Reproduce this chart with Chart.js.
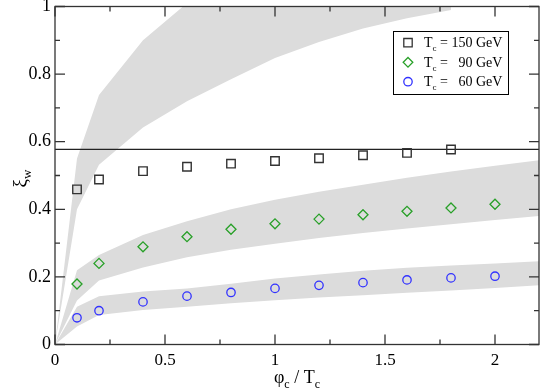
<!DOCTYPE html>
<html>
<head>
<meta charset="utf-8">
<script src="https://cdn.jsdelivr.net/npm/chart.js@4"></script>
<style>
  body { margin: 0; background: #fff; }
</style>
</head>
<body>
<canvas id="myChart" width="540" height="389"></canvas>
<script>
// ******* DATA ******************
// simulated points, phi_c / T_c on x
let xPoints = [0.1, 0.2, 0.4, 0.6, 0.8, 1.0, 1.2, 1.4, 1.6, 1.8, 2.0];
let xi150 = [0.459, 0.488, 0.513, 0.526, 0.535, 0.543, 0.551, 0.560, 0.567, 0.577];
let xi90  = [0.179, 0.240, 0.289, 0.319, 0.341, 0.357, 0.371, 0.384, 0.394, 0.404, 0.415];
let xi60  = [0.079, 0.100, 0.126, 0.143, 0.154, 0.166, 0.175, 0.183, 0.191, 0.197, 0.202];

// grey bands (lower / upper edge)
let bandX = [0, 0.1, 0.2, 0.4, 0.6, 0.8, 1.0, 1.2, 1.4, 1.6, 1.8, 2.0, 2.2];
let band150Lo = [0, 0.40, 0.532, 0.642, 0.72, 0.785, 0.848, 0.895, 0.935, 0.965, 0.99];
let band150Hi = [0, 0.55, 0.738, 0.90, 1.01, 1.08, 1.14, 1.19, 1.24, 1.28, 1.32];
let band90Lo  = [0, 0.13, 0.189, 0.228, 0.258, 0.28, 0.298, 0.315, 0.33, 0.343, 0.356, 0.368, 0.38];
let band90Hi  = [0, 0.22, 0.265, 0.324, 0.365, 0.40, 0.428, 0.452, 0.473, 0.493, 0.512, 0.529, 0.545];
let band60Lo  = [0, 0.053, 0.087, 0.102, 0.112, 0.122, 0.131, 0.139, 0.146, 0.153, 0.16, 0.167, 0.175];
let band60Hi  = [0, 0.112, 0.143, 0.157, 0.166, 0.18, 0.195, 0.207, 0.218, 0.227, 0.234, 0.24, 0.246];

// horizontal reference line
let refLineX = [0, 2.2];
let refLineY = [0.577, 0.577];

// ticks
let xTicks = [0, 0.5, 1, 1.5, 2];
let xMinor = [0.25, 0.75, 1.25, 1.75];
let yTicks = [0, 0.2, 0.4, 0.6, 0.8, 1];
let yMinor = [0.1, 0.3, 0.5, 0.7, 0.9];

let legendNames = ['150', '90', '60'];

const SERIF = '"Liberation Serif", "DejaVu Serif", serif';
const GREY = 'rgb(220,220,220)';

function pairUp(xs, ys) {
  let out = [];
  for (let i = 0; i < ys.length; i++) {
    out.push({ x: xs[i], y: ys[i] });
  }
  return out;
}

function bandSets(lo, hi) {
  return [
    { data: pairUp(bandX, lo), borderWidth: 0, pointRadius: 0, fill: false, order: 5, backgroundColor: GREY },
    { data: pairUp(bandX, hi), borderWidth: 0, pointRadius: 0, fill: '-1', order: 5, backgroundColor: GREY }
  ];
}

// ******* extra drawing: frame, inward ticks, titles, legend ******************
function drawSub(ctx, big, small, x, y, bigSize, smallSize) {
  ctx.font = bigSize + 'px ' + SERIF;
  ctx.fillText(big, x, y);
  let w = ctx.measureText(big).width;
  ctx.font = smallSize + 'px ' + SERIF;
  ctx.fillText(small, x + w, y + bigSize * 0.28);
  return w + ctx.measureText(small).width;
}

function drawMarker(ctx, style, x, y) {
  ctx.beginPath();
  if (style === 'rect') {
    ctx.rect(x - 4.2, y - 4.2, 8.4, 8.4);
  } else if (style === 'rectRot') {
    ctx.moveTo(x, y - 4.8); ctx.lineTo(x + 4.8, y); ctx.lineTo(x, y + 4.8); ctx.lineTo(x - 4.8, y); ctx.closePath();
  } else {
    ctx.arc(x, y, 4.2, 0, Math.PI * 2);
  }
  ctx.stroke();
}

// no extra room for half labels, the area is set by hand
function noPad(s) {
  s.paddingTop = 0; s.paddingBottom = 0; s.paddingLeft = 0; s.paddingRight = 0;
}

const extrasPlugin = {
  id: 'extras',
  afterDatasetsDraw(chart) {
    let ctx = chart.ctx;
    let a = chart.chartArea;
    let xs = chart.scales.x;
    let ys = chart.scales.y;
    ctx.save();
    ctx.strokeStyle = '#333';
    ctx.lineWidth = 1.3;
    ctx.strokeRect(a.left, a.top, a.right - a.left, a.bottom - a.top);

    ctx.beginPath();
    yTicks.concat(yMinor).forEach(function (v) {
      let len = yTicks.includes(v) ? 10 : 5;
      let py = ys.getPixelForValue(v);
      ctx.moveTo(a.left, py); ctx.lineTo(a.left + len, py);
      ctx.moveTo(a.right, py); ctx.lineTo(a.right - len, py);
    });
    xTicks.concat(xMinor).forEach(function (v) {
      let len = xTicks.includes(v) ? 10 : 5;
      let px = xs.getPixelForValue(v);
      ctx.moveTo(px, a.bottom); ctx.lineTo(px, a.bottom - len);
      ctx.moveTo(px, a.top); ctx.lineTo(px, a.top + len);
    });
    ctx.stroke();
    ctx.restore();
  },
  afterDraw(chart) {
    let ctx = chart.ctx;
    let a = chart.chartArea;
    ctx.save();
    ctx.fillStyle = '#000';
    ctx.textBaseline = 'alphabetic';

    // x title  phi_c / T_c
    let cx = (a.left + a.right) / 2;
    let wTot = 0;
    ctx.font = '18px ' + SERIF; wTot += ctx.measureText('φ / T').width;
    ctx.font = '12px ' + SERIF; wTot += 2 * ctx.measureText('c').width;
    let x0 = cx - wTot / 2;
    x0 += drawSub(ctx, 'φ', 'c', x0, 383, 18, 12);
    ctx.font = '18px ' + SERIF;
    ctx.fillText(' / ', x0, 383);
    x0 += ctx.measureText(' / ').width;
    drawSub(ctx, 'T', 'c', x0, 383, 18, 12);

    // y title  xi_w (rotated)
    ctx.save();
    ctx.translate(26, (a.top + a.bottom) / 2 + 4);
    ctx.rotate(-Math.PI / 2);
    drawSub(ctx, 'ξ', 'w', -8, 0, 19, 13);
    ctx.restore();

    // legend
    let bx = 393, by = 31, bw = 115, bh = 63;
    ctx.fillStyle = '#fff';
    ctx.fillRect(bx, by, bw, bh);
    ctx.strokeStyle = '#000';
    ctx.lineWidth = 1;
    ctx.strokeRect(bx + 0.5, by + 0.5, bw, bh);
    let rows = [42.7, 62.3, 81.7];
    let dsIdx = [7, 8, 9];
    ctx.font = '14px ' + SERIF;
    let numEnd = 0;
    for (let i = 0; i < 3; i++) {
      let ds = chart.data.datasets[dsIdx[i]];
      ctx.strokeStyle = ds.borderColor;
      ctx.lineWidth = 1.3;
      drawMarker(ctx, ds.pointStyle, 408, rows[i]);
      ctx.fillStyle = '#000';
      let ty = rows[i] + 4.5;
      let xx = 424 + drawSub(ctx, 'T', 'c', 424, ty, 14, 9);
      ctx.font = '14px ' + SERIF;
      ctx.textAlign = 'left';
      ctx.fillText(' = ', xx, ty);
      xx += ctx.measureText(' = ').width;
      if (i === 0) numEnd = xx + ctx.measureText('150').width;
      ctx.textAlign = 'right';
      ctx.fillText(legendNames[i], numEnd, ty);
      ctx.textAlign = 'left';
      ctx.fillText(' GeV', numEnd, ty);
    }
    ctx.restore();
  }
};

// ******* CHART ******************
function makeChart() {
  let datasets = [];
  datasets = datasets.concat(bandSets(band150Lo, band150Hi));
  datasets = datasets.concat(bandSets(band90Lo, band90Hi));
  datasets = datasets.concat(bandSets(band60Lo, band60Hi));

  datasets.push({
    data: pairUp(refLineX, refLineY),
    borderColor: '#222', borderWidth: 1.3, pointRadius: 0, fill: false, order: 2
  });
  datasets.push({
    data: pairUp(xPoints, xi150), showLine: false, pointStyle: 'rect', pointRadius: 6,
    borderColor: '#333', borderWidth: 1.4, backgroundColor: 'rgba(0,0,0,0)', order: 0
  });
  datasets.push({
    data: pairUp(xPoints, xi90), showLine: false, pointStyle: 'rectRot', pointRadius: 5,
    borderColor: 'rgb(40,160,40)', borderWidth: 1.3, backgroundColor: 'rgba(0,0,0,0)', order: 0
  });
  datasets.push({
    data: pairUp(xPoints, xi60), showLine: false, pointStyle: 'circle', pointRadius: 4.2,
    borderColor: 'rgb(50,50,255)', borderWidth: 1.3, backgroundColor: 'rgba(0,0,0,0)', order: 0
  });

  const config = {
    type: 'line',
    data: { datasets: datasets },
    options: {
      responsive: false,
      animation: false,
      devicePixelRatio: 1,
      layout: { autoPadding: false, padding: { top: 6.5, right: 1, left: 0, bottom: 0 } },
      elements: { line: { tension: 0 } },
      plugins: { legend: { display: false }, tooltip: { enabled: false } },
      scales: {
        x: {
          type: 'linear', min: 0, max: 2.2,
          grid: { display: false, drawTicks: false },
          border: { display: false },
          afterBuildTicks: function (s) { s.ticks = xTicks.map(v => ({ value: v })); },
          afterFit: function (s) { s.height = 44.5; noPad(s); },
          ticks: {
            padding: 6, color: '#000', maxRotation: 0, autoSkip: false,
            font: { family: SERIF, size: 17 },
            callback: v => String(v)
          }
        },
        y: {
          type: 'linear', min: 0, max: 1,
          grid: { display: false, drawTicks: false },
          border: { display: false },
          afterBuildTicks: function (s) { s.ticks = yTicks.map(v => ({ value: v })); },
          afterFit: function (s) { s.width = 55; noPad(s); },
          ticks: {
            padding: 4, color: '#000', autoSkip: false,
            font: { family: SERIF, size: 18 },
            callback: v => String(v)
          }
        }
      }
    },
    plugins: [extrasPlugin]
  };
  let canvasChart = document.getElementById('myChart');
  const myChart = new Chart(canvasChart, config);
}

makeChart();
</script>
</body>
</html>
